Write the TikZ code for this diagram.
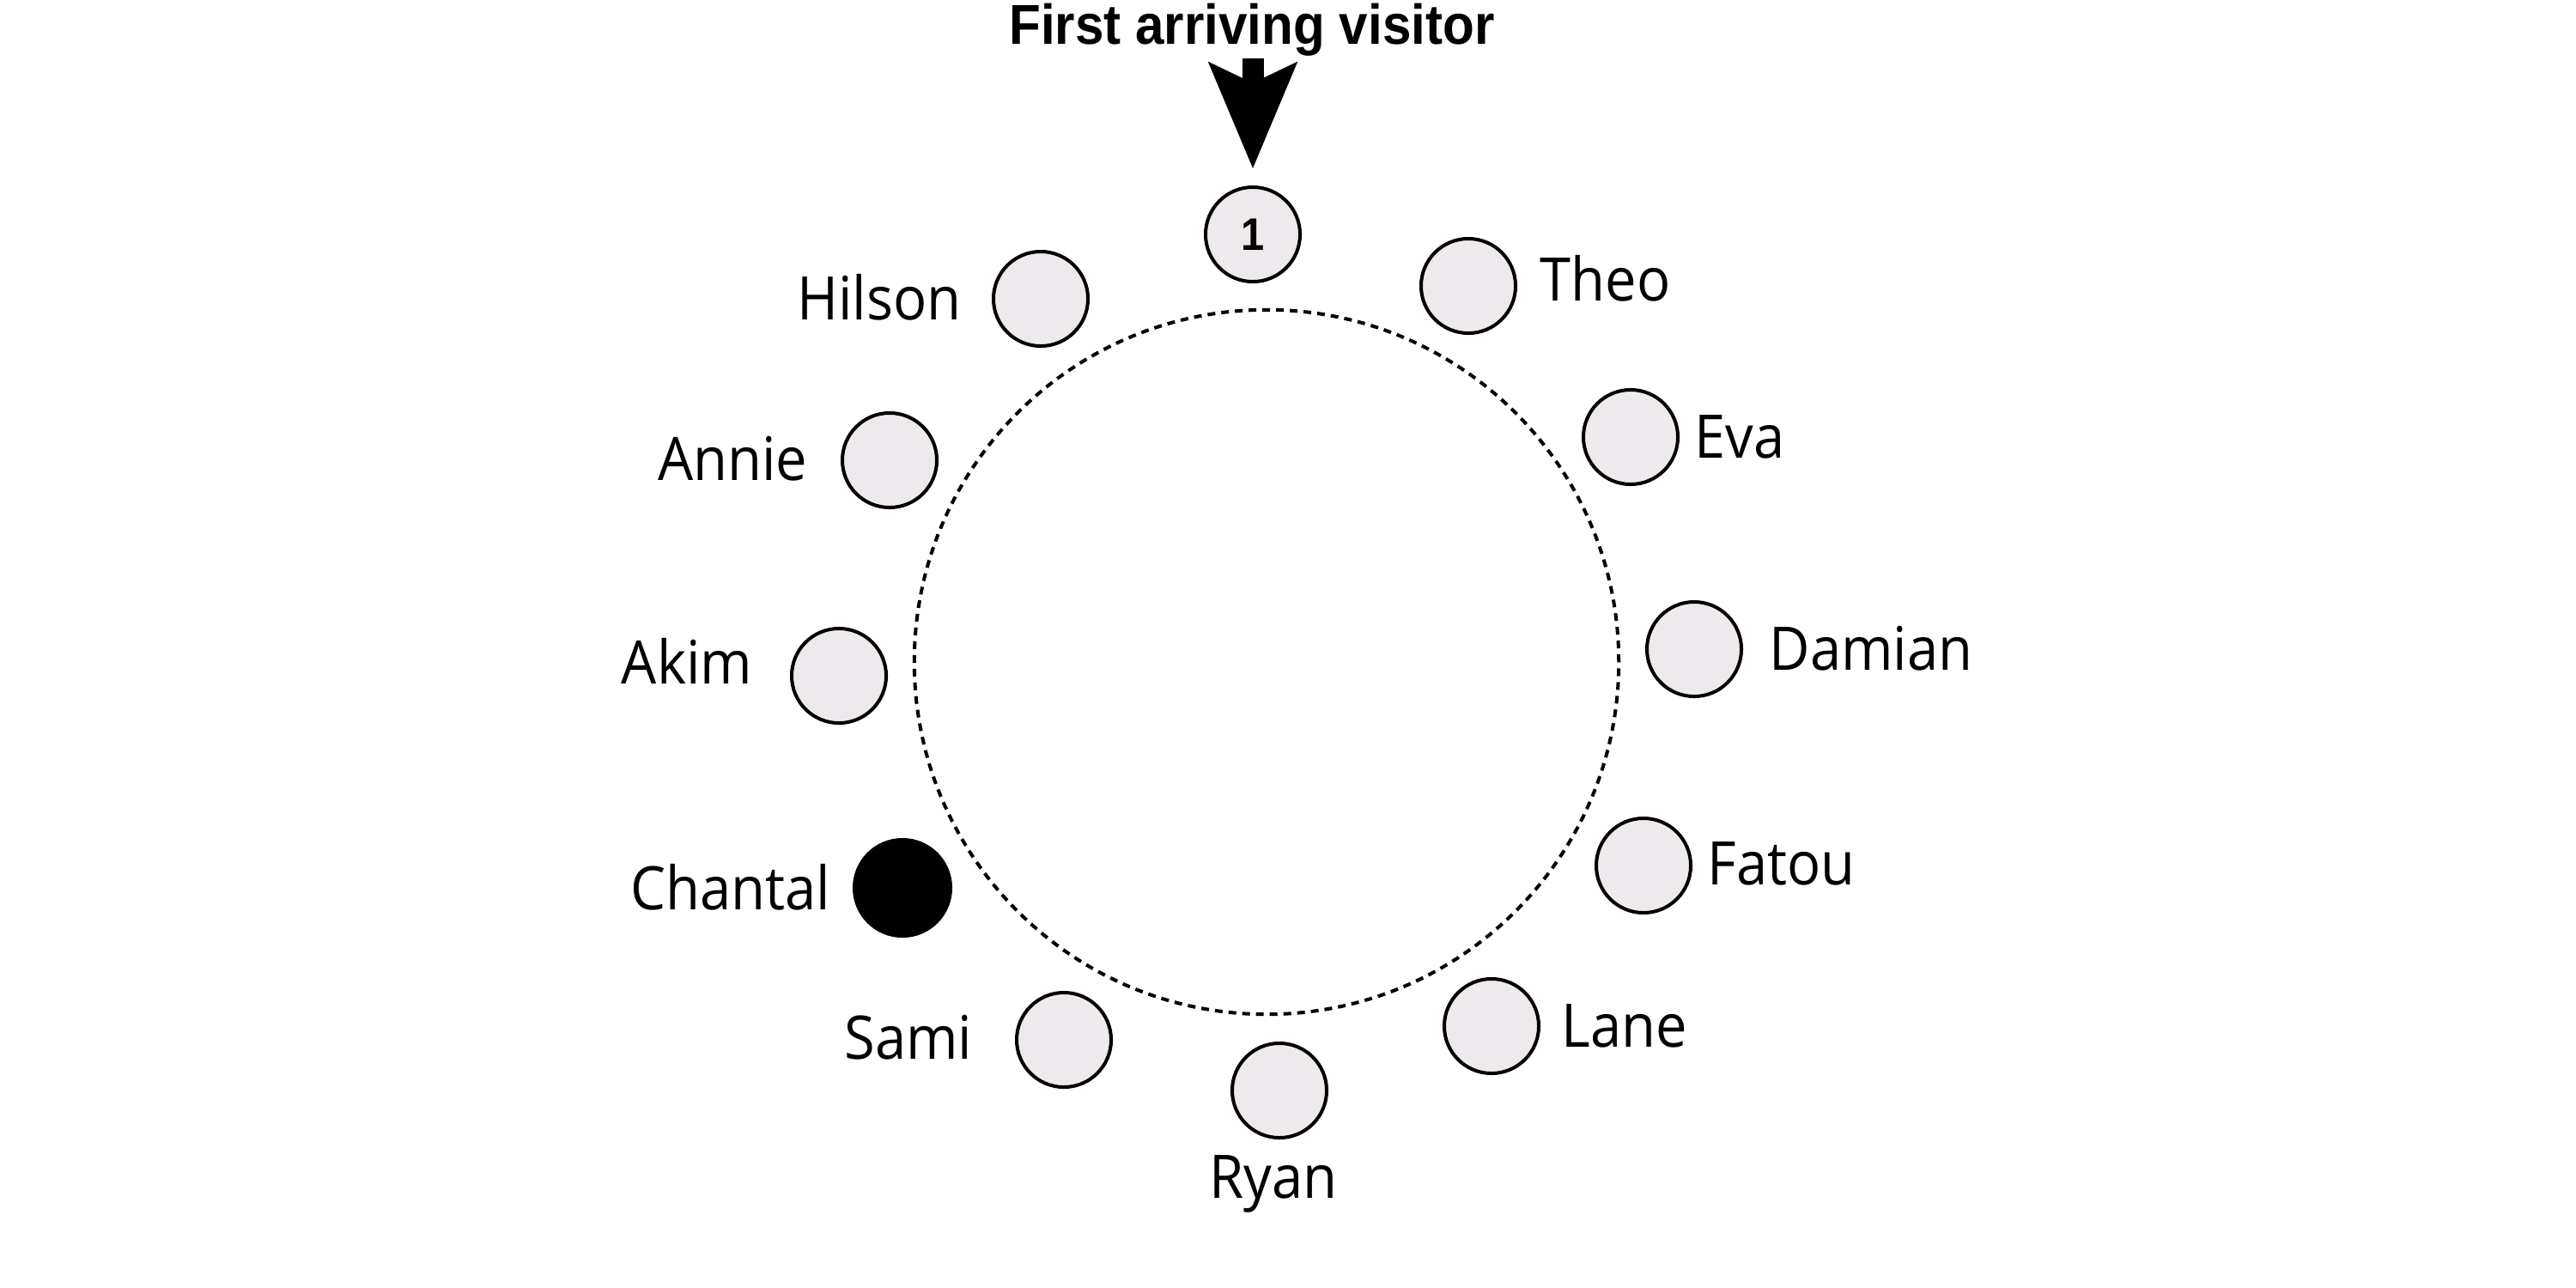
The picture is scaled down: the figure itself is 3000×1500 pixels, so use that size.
\documentclass[tikz,border=0pt]{standalone}
\usepackage{fontspec}
\usetikzlibrary{arrows.meta}
\newfontfamily\lblfont[FakeStretch=0.93]{Open Sans}
\newfontfamily\ttlfont[FakeStretch=0.92]{Liberation Sans}
\definecolor{seatfill}{RGB}{238,233,236}
\tikzset{
  seat/.style={circle, draw=black, line width=0.04cm, fill=seatfill, minimum size=1.1cm, inner sep=0pt},
  takenseat/.style={circle, draw=black, line width=0.04cm, fill=black, minimum size=1.12cm, inner sep=0pt},
  guestlabel/.style={font=\lblfont\fontsize{19.9pt}{24pt}\selectfont, inner sep=0pt},
  roundtable/.style={draw=black, line width=0.04cm, dash pattern=on 0.09cm off 0.07cm},
  bigarrow/.style={draw=black, line width=0.25cm, -{Stealth[length=1.22cm, width=0.99cm, inset=0.22cm]}, shorten >=0.19cm}
}
\begin{document}
\begin{tikzpicture}[x=0.01cm,y=-0.01cm]
\useasboundingbox (0,0) rectangle (3000,1500);
% table
\coordinate (ctr) at (1475,771);
\draw[roundtable] (ctr) circle[radius=4.10cm];
% seats
\node[seat] (c1) at (1459,273) {\ttlfont\bfseries\fontsize{15.1pt}{18pt}\selectfont 1};
\node[seat] (theo) at (1710,333) {};
\node[seat] (eva) at (1899,509) {};
\node[seat] (damian) at (1973,756) {};
\node[seat] (fatou) at (1914,1008) {};
\node[seat] (lane) at (1737,1195) {};
\node[seat] (ryan) at (1490,1270) {};
\node[seat] (sami) at (1239,1211) {};
\node[takenseat] (chantal) at (1051,1034) {};
\node[seat] (akim) at (977,787) {};
\node[seat] (annie) at (1036,536) {};
\node[seat] (hilson) at (1212,348) {};
% labels
\node[guestlabel, anchor=base west] (ltheo) at (1793,350) {Theo};
\node[guestlabel, anchor=base west] (leva) at (1973,533) {Eva};
\node[guestlabel, anchor=base west] (ldamian) at (2060,780) {Damian};
\node[guestlabel, anchor=base west] (lfatou) at (1988,1030) {Fatou};
\node[guestlabel, anchor=base west] (llane) at (1818,1219) {Lane};
\node[guestlabel, anchor=base] (lryan) at (1483,1395) {Ryan};
\node[guestlabel, anchor=base east] (lsami) at (1133,1233) {Sami};
\node[guestlabel, anchor=base east] (lchantal) at (968,1059) {Chantal};
\node[guestlabel, anchor=base east] (lakim) at (877,796) {Akim};
\node[guestlabel, anchor=base east] (lannie) at (941,559) {Annie};
\node[guestlabel, anchor=base east] (lhilson) at (1120,372) {Hilson};
% title and arrow
\node[inner sep=0pt, anchor=base, font=\ttlfont\bfseries\fontsize{18.6pt}{22pt}\selectfont] (title) at (1458,52) {First arriving visitor};
\coordinate (arrstart) at (1459,68);
\draw[bigarrow] (arrstart) -- (c1.north);
\end{tikzpicture}
\end{document}
